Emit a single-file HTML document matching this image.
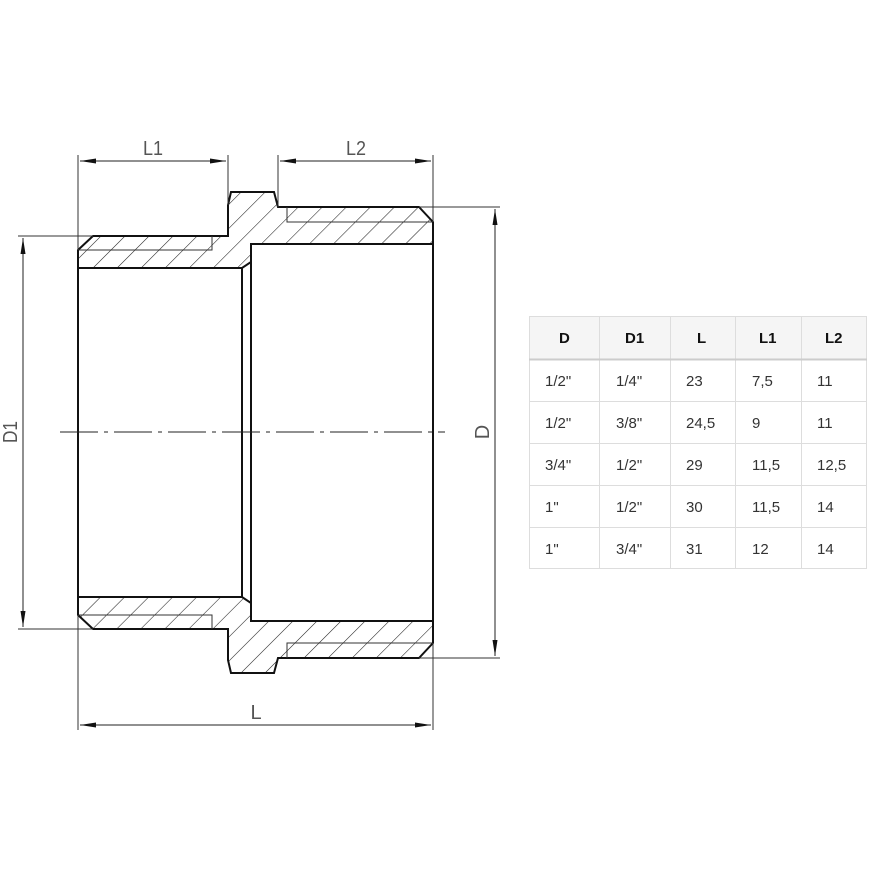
<!DOCTYPE html>
<html><head><style>
html,body{margin:0;padding:0;background:#fff;}
svg{display:block;}
</style></head><body>
<svg width="887" height="887" viewBox="0 0 887 887" xmlns="http://www.w3.org/2000/svg">
<defs>
<pattern id="h" patternUnits="userSpaceOnUse" width="17" height="17" patternTransform="rotate(45)">
<line x1="0" y1="0" x2="0" y2="17" stroke="#222" stroke-width="1.1"/>
</pattern>
<marker id="a" markerWidth="16" markerHeight="8" refX="16" refY="4" orient="auto" markerUnits="userSpaceOnUse">
<path d="M0,1.5 L16,4 L0,6.5 Z" fill="#111"/>
</marker>
</defs>
<path d="M78,250 L93,236 L228,236 L228,205 L231,192 L274,192 L278,207 L419,207 L433,222 L433,244 L251,244 L251,262 L242,268 L78,268 Z" fill="url(#h)" stroke="#111" stroke-width="2"/>
<path d="M78,250 L212,250 L212,236 M287,207 L287,222 L433,222" fill="none" stroke="#333" stroke-width="1"/>
<path d="M78,615 L93,629 L228,629 L228,660 L231,673 L274,673 L278,658 L419,658 L433,643 L433,621 L251,621 L251,603 L242,597 L78,597 Z" fill="url(#h)" stroke="#111" stroke-width="2"/>
<path d="M78,615 L212,615 L212,629 M287,658 L287,643 L433,643" fill="none" stroke="#333" stroke-width="1"/>
<line x1="78" y1="250" x2="78" y2="615" stroke="#111" stroke-width="2"/>
<line x1="242" y1="268" x2="242" y2="597" stroke="#111" stroke-width="2"/>
<line x1="251" y1="262" x2="251" y2="603" stroke="#111" stroke-width="2"/>
<line x1="433" y1="222" x2="433" y2="643" stroke="#111" stroke-width="2"/>
<line x1="60" y1="432" x2="445" y2="432" stroke="#222" stroke-width="1" stroke-dasharray="38,6,4,6"/>
<g stroke="#333" stroke-width="1" fill="none">
<line x1="78" y1="155" x2="78" y2="250"/>
<line x1="228" y1="155" x2="228" y2="205"/>
<line x1="278" y1="155" x2="278" y2="207"/>
<line x1="433" y1="155" x2="433" y2="222"/>
<line x1="78" y1="615" x2="78" y2="730"/>
<line x1="433" y1="643" x2="433" y2="730"/>
<line x1="18" y1="236" x2="93" y2="236"/>
<line x1="18" y1="629" x2="93" y2="629"/>
<line x1="419" y1="207" x2="500" y2="207"/>
<line x1="419" y1="658" x2="500" y2="658"/>
</g>
<g stroke="#222" stroke-width="1">
<line x1="153" y1="161" x2="80" y2="161" marker-end="url(#a)"/>
<line x1="153" y1="161" x2="226" y2="161" marker-end="url(#a)"/>
<line x1="356" y1="161" x2="280" y2="161" marker-end="url(#a)"/>
<line x1="356" y1="161" x2="431" y2="161" marker-end="url(#a)"/>
<line x1="256" y1="725" x2="80" y2="725" marker-end="url(#a)"/>
<line x1="256" y1="725" x2="431" y2="725" marker-end="url(#a)"/>
<line x1="23" y1="432" x2="23" y2="238" marker-end="url(#a)"/>
<line x1="23" y1="432" x2="23" y2="627" marker-end="url(#a)"/>
<line x1="495" y1="432" x2="495" y2="209" marker-end="url(#a)"/>
<line x1="495" y1="432" x2="495" y2="656" marker-end="url(#a)"/>
</g>
<g font-family="Liberation Sans, sans-serif" font-size="20" fill="#555" text-anchor="middle">
<text x="153" y="155" textLength="20" lengthAdjust="spacingAndGlyphs">L1</text>
<text x="356" y="155" textLength="20" lengthAdjust="spacingAndGlyphs">L2</text>
<text x="256" y="719">L</text>
<text transform="translate(17,432) rotate(-90)" textLength="22" lengthAdjust="spacingAndGlyphs">D1</text>
<text transform="translate(489,432) rotate(-90)">D</text>
</g>
<rect x="529" y="316" width="338" height="43" fill="#f5f5f5"/>
<g stroke="#ddd" stroke-width="1" fill="none">
<rect x="529.5" y="316.5" width="337" height="252"/>
<line x1="599.5" y1="316" x2="599.5" y2="569"/>
<line x1="670.5" y1="316" x2="670.5" y2="569"/>
<line x1="735.5" y1="316" x2="735.5" y2="569"/>
<line x1="801.5" y1="316" x2="801.5" y2="569"/>
<line x1="529" y1="359.5" x2="867" y2="359.5" stroke="#ccc" stroke-width="2"/>
<line x1="529" y1="401.5" x2="867" y2="401.5"/>
<line x1="529" y1="443.5" x2="867" y2="443.5"/>
<line x1="529" y1="485.5" x2="867" y2="485.5"/>
<line x1="529" y1="527.5" x2="867" y2="527.5"/>
</g>
<g font-family="Liberation Sans, sans-serif" font-size="15" font-weight="bold" fill="#111">
<text x="559" y="343">D</text><text x="625" y="343">D1</text><text x="697" y="343">L</text><text x="759" y="343">L1</text><text x="825" y="343">L2</text>
</g>
<g font-family="Liberation Sans, sans-serif" font-size="15" fill="#333">
<text x="545" y="386">1/2"</text><text x="616" y="386">1/4"</text><text x="686" y="386">23</text><text x="752" y="386">7,5</text><text x="817" y="386">11</text>
<text x="545" y="428">1/2"</text><text x="616" y="428">3/8"</text><text x="686" y="428">24,5</text><text x="752" y="428">9</text><text x="817" y="428">11</text>
<text x="545" y="470">3/4"</text><text x="616" y="470">1/2"</text><text x="686" y="470">29</text><text x="752" y="470">11,5</text><text x="817" y="470">12,5</text>
<text x="545" y="512">1"</text><text x="616" y="512">1/2"</text><text x="686" y="512">30</text><text x="752" y="512">11,5</text><text x="817" y="512">14</text>
<text x="545" y="554">1"</text><text x="616" y="554">3/4"</text><text x="686" y="554">31</text><text x="752" y="554">12</text><text x="817" y="554">14</text>
</g>
</svg>
</body></html>
